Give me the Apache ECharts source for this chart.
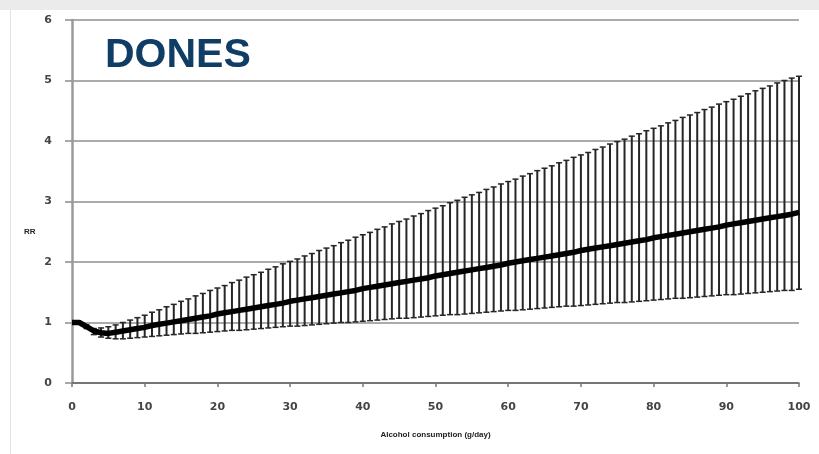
<!DOCTYPE html>
<html>
<head>
<meta charset="utf-8">
<script src="https://cdn.jsdelivr.net/npm/echarts@6/dist/echarts.min.js"></script>
<style>
  html, body { margin: 0; padding: 0; background: #ffffff; }
  #chart { width: 819px; height: 454px; }
</style>
</head>
<body>
<div id="chart"></div>
<script>
// Alcohol consumption (g/day), one point per gram
const dose = [0,1,2,3,4,5,6,7,8,9,10,11,12,13,14,15,16,17,18,19,20,21,22,23,24,25,26,27,28,29,30,
  31,32,33,34,35,36,37,38,39,40,41,42,43,44,45,46,47,48,49,50,51,52,53,54,55,56,57,58,59,60,
  61,62,63,64,65,66,67,68,69,70,71,72,73,74,75,76,77,78,79,80,81,82,83,84,85,86,87,88,89,90,
  91,92,93,94,95,96,97,98,99,100];

// Relative risk (point estimate)
const rr = [1.00,1.00,0.93,0.86,0.83,0.82,0.84,0.86,0.88,0.90,0.92,0.95,0.97,0.99,1.01,1.03,1.05,1.07,1.09,1.11,
  1.14,1.16,1.18,1.20,1.22,1.24,1.26,1.28,1.30,1.32,1.35,1.37,1.39,1.41,1.43,1.45,1.47,1.49,1.51,1.53,
  1.56,1.58,1.60,1.62,1.64,1.66,1.68,1.70,1.72,1.74,1.77,1.79,1.81,1.83,1.85,1.87,1.89,1.91,1.93,1.95,
  1.98,2.00,2.02,2.04,2.06,2.08,2.10,2.12,2.14,2.16,2.19,2.21,2.23,2.25,2.27,2.29,2.31,2.33,2.35,2.37,
  2.40,2.42,2.44,2.46,2.48,2.50,2.52,2.54,2.56,2.58,2.61,2.63,2.65,2.67,2.69,2.71,2.73,2.75,2.77,2.79,2.82];

// Upper confidence limit
const upper = [1.00,1.00,0.96,0.90,0.91,0.93,0.96,1.00,1.04,1.08,1.12,1.17,1.21,1.26,1.30,1.35,1.39,1.44,1.48,1.53,
  1.57,1.61,1.66,1.70,1.75,1.79,1.83,1.88,1.92,1.97,2.01,2.05,2.10,2.14,2.19,2.23,2.27,2.32,2.36,2.41,
  2.45,2.49,2.54,2.58,2.63,2.67,2.71,2.76,2.80,2.85,2.89,2.93,2.98,3.02,3.07,3.11,3.15,3.20,3.24,3.29,
  3.33,3.37,3.42,3.46,3.51,3.55,3.59,3.64,3.68,3.73,3.77,3.81,3.86,3.90,3.95,3.99,4.03,4.08,4.12,4.17,
  4.21,4.25,4.30,4.34,4.39,4.43,4.47,4.52,4.56,4.61,4.65,4.69,4.74,4.78,4.83,4.87,4.91,4.96,5.00,5.04,5.07];

// Lower confidence limit
const lower = [1.00,0.99,0.90,0.80,0.76,0.74,0.73,0.73,0.74,0.75,0.76,0.77,0.78,0.79,0.80,0.81,0.82,0.82,0.83,0.84,
  0.85,0.86,0.87,0.87,0.88,0.89,0.90,0.91,0.92,0.93,0.94,0.94,0.95,0.96,0.97,0.98,0.99,1.00,1.00,1.01,
  1.02,1.03,1.04,1.05,1.06,1.07,1.07,1.08,1.09,1.10,1.11,1.12,1.13,1.13,1.14,1.15,1.16,1.17,1.18,1.19,
  1.20,1.20,1.21,1.22,1.23,1.24,1.25,1.26,1.27,1.27,1.28,1.29,1.30,1.31,1.32,1.33,1.33,1.34,1.35,1.36,
  1.37,1.38,1.39,1.40,1.40,1.41,1.42,1.43,1.44,1.45,1.46,1.46,1.47,1.48,1.49,1.50,1.51,1.52,1.53,1.53,1.55];

const xTicks = [0,10,20,30,40,50,60,70,80,90,100];
const yTicks = [0,1,2,3,4,5,6];

const rrData = dose.map((d, i) => [d, rr[i]]);
const ciData = dose.slice(1).map((d, k) => [d, lower[k + 1], upper[k + 1]]);

const chart = echarts.init(document.getElementById('chart'), null, { renderer: 'canvas' });

const axisFont = { fontFamily: 'DejaVu Sans', fontWeight: 'bold', fontSize: 11, color: '#444444' };

chart.setOption({
  animation: false,
  backgroundColor: '#ffffff',
  graphic: [
    { type: 'rect', left: 0, top: 0, shape: { width: 819, height: 10 }, style: { fill: '#ebebeb' }, z: 0 },
    { type: 'line', shape: { x1: 10.5, y1: 10, x2: 10.5, y2: 454 }, style: { stroke: '#e2e2e2', lineWidth: 1 }, z: 0 },
    { type: 'text', left: 105, top: 35,
      style: { text: 'DONES', fill: '#0f3d66', font: 'bold 41px "Liberation Sans", Arial, sans-serif' }, z: 10 },
    { type: 'text', left: 24, top: 228,
      style: { text: 'RR', fill: '#222', font: 'bold 8px "Liberation Sans", Arial, sans-serif' }, z: 10 }
  ],
  grid: { left: 72, right: 20, top: 20, bottom: 71, containLabel: false },
  xAxis: {
    type: 'value', min: 0, max: 100, interval: 10,
    axisLine: { show: true, onZero: false, lineStyle: { color: '#666666', width: 1.5 } },
    axisTick: { show: true, length: 4, lineStyle: { color: '#777777', width: 1.5 } },
    axisLabel: Object.assign({ margin: 19, formatter: v => xTicks.includes(v) ? String(v) : '' }, axisFont),
    splitLine: { show: false },
    name: 'Alcohol consumption (g/day)',
    nameLocation: 'middle', nameGap: 48,
    nameTextStyle: { fontFamily: '"Liberation Sans", Arial', fontWeight: 'bold', fontSize: 8, color: '#222' }
  },
  yAxis: {
    type: 'value', min: 0, max: 6, interval: 1,
    axisLine: { show: true, lineStyle: { color: '#9a9a9a', width: 2.5 } },
    axisTick: { show: true, length: 7, lineStyle: { color: '#8c8c8c', width: 1.5 } },
    axisLabel: Object.assign({ margin: 20, formatter: v => yTicks.includes(v) ? String(v) : '' }, axisFont),
    splitLine: { show: true, lineStyle: { color: '#8f8f8f', width: 1.5 } }
  },
  series: [
    {
      type: 'custom',
      name: 'CI',
      data: ciData,
      z: 3,
      renderItem: function (params, api) {
        const x = api.value(0);
        const lo = api.coord([x, api.value(1)]);
        const hi = api.coord([x, api.value(2)]);
        const hw = 3;
        const st = { stroke: '#262626', lineWidth: 2 };
        return {
          type: 'group',
          children: [
            { type: 'line', shape: { x1: hi[0], y1: hi[1], x2: lo[0], y2: lo[1] }, style: st },
            { type: 'line', shape: { x1: hi[0] - hw, y1: hi[1], x2: hi[0] + hw, y2: hi[1] }, style: { stroke: '#262626', lineWidth: 1.5 } },
            { type: 'line', shape: { x1: lo[0] - hw, y1: lo[1], x2: lo[0] + hw, y2: lo[1] }, style: { stroke: '#262626', lineWidth: 1.5 } }
          ]
        };
      }
    },
    {
      type: 'line',
      name: 'RR',
      data: rrData,
      showSymbol: false,
      z: 5,
      lineStyle: { color: '#000000', width: 5.5 },
      itemStyle: { color: '#000000' }
    }
  ]
});
</script>
</body>
</html>
